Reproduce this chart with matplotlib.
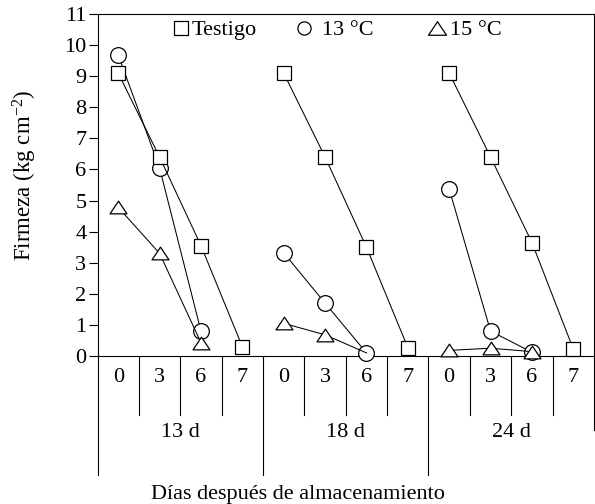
import matplotlib
matplotlib.use("Agg")
import matplotlib.pyplot as plt
from matplotlib.lines import Line2D
from matplotlib.legend import Legend
from matplotlib.path import Path

plt.rcParams['font.family'] = ['Liberation Serif', 'DejaVu Serif']
plt.rcParams['mathtext.fontset'] = 'custom'
plt.rcParams['mathtext.rm'] = 'Liberation Serif'
plt.rcParams['mathtext.it'] = 'Liberation Serif:italic'
plt.rcParams['font.size'] = 16

# Data
groups = ['13 d', '18 d', '24 d']
days = ['0', '3', '6', '7']
testigo = [[9.1, 6.4, 3.55, 0.3],
           [9.1, 6.4, 3.5, 0.27],
           [9.1, 6.4, 3.65, 0.22]]
temp13 = [[9.68, 6.05, 0.8],
          [3.32, 1.7, 0.1],
          [5.37, 0.8, 0.12]]
temp15 = [[4.78, 3.3, 0.43],
          [1.05, 0.68, 0.1],
          [0.18, 0.25, 0.14]]
# the 15 °C marker at 18 d / day 6 is hidden behind the circle in the original
hidden15 = [None, [0, 1], None]
yticks = list(range(0, 12))
labels = ['Testigo', '13 °C', '15 °C']

tri = Path([(-1, -0.75), (1, -0.75), (0, 0.75), (-1, -0.75)],
           [Path.MOVETO, Path.LINETO, Path.LINETO, Path.CLOSEPOLY])

fig = plt.figure(figsize=(5.95, 5.04), dpi=100)
ax = fig.add_axes([0.1639, 0.2937, 0.9983 - 0.1639, 0.9722 - 0.2937])

style = dict(color='black', lw=0.75, mfc='white', mec='black', mew=0.9, clip_on=False)
n = len(days)
for g in range(len(groups)):
    xs = [g * n + j + 0.5 for j in range(n)]
    ax.plot(xs[:len(temp13[g])], temp13[g], marker='o', ms=11.3, zorder=3, **style)
    ax.plot(xs, testigo[g], marker='s', ms=9.4, zorder=4, **style)
    ax.plot(xs[:len(temp15[g])], temp15[g], marker=tri, ms=12.2, zorder=5,
            markevery=hidden15[g], **style)

ax.set_xlim(0, n * len(groups))
ax.set_ylim(0, 11)
ax.set_yticks(yticks)
ax.set_xticks([])
ax.tick_params(axis='y', direction='out', length=6.5, width=0.8, pad=1.5)
for s in ax.spines.values():
    s.set_linewidth(0.8)

# category table below the axis
trans = ax.get_xaxis_transform()
for g in range(len(groups)):
    for j in range(n):
        ax.text(g * n + j + 0.5, -0.062, days[j], transform=trans,
                ha='center', va='center')
    ax.text(g * n + n / 2, -0.225, groups[g], transform=trans,
            ha='center', va='center')
for k in range(n * len(groups) + 1):
    if k % n == 0 and k < n * len(groups):
        bottom = -0.348
    elif k == n * len(groups):
        bottom = -0.216
    else:
        bottom = -0.1725
    ax.plot([k, k], [0, bottom], transform=trans, clip_on=False,
            color='black', lw=0.8)

fig.text(0.5, 0.0, 'Días después de almacenamiento', ha='center', va='bottom')
fig.text(0.042, 0.653, 'Firmeza (kg cm$^{-2}$)', rotation=90,
         ha='center', va='center', fontsize=16.5)

# three single-entry legends, spaced like the original
markers = [('s', 10), ('o', 9.5), (tri, 13)]
anchors = [0.152, 0.401, 0.669]
pads = [0.12, 0.45, 0.21]
for (m, ms), lab, x0, pad in zip(markers, labels, anchors, pads):
    h = Line2D([], [], ls='none', marker=m, ms=ms, mfc='white', mec='black', mew=0.9)
    leg = Legend(ax, [h], [lab], loc='center left', bbox_to_anchor=(x0, 0.953),
                 frameon=False, handlelength=0.7, handletextpad=pad,
                 borderpad=0, borderaxespad=0)
    ax.add_artist(leg)

fig.savefig('out.png', dpi=100)
